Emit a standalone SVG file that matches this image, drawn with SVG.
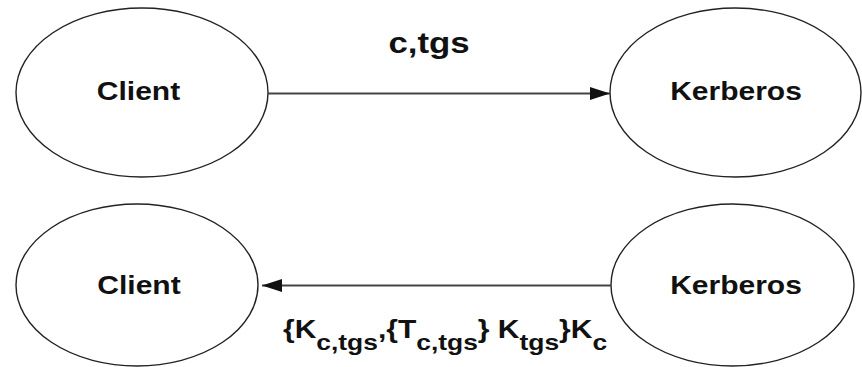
<svg xmlns="http://www.w3.org/2000/svg" width="862" height="367" viewBox="0 0 862 367">
<style>
.node ellipse{fill:#fff;stroke:#222;stroke-width:1.4}
.lbl{font-family:"Liberation Sans",Arial,sans-serif;font-weight:bold;font-size:25px;fill:#111}
.edge{stroke:#444;stroke-width:2;fill:none}
.sub{font-size:22px}
</style>
<defs>
<marker id="ah" viewBox="0 0 20 13" refX="20" refY="6.5" markerWidth="20" markerHeight="13" markerUnits="userSpaceOnUse" orient="auto">
<path d="M0,0 L20,6.5 L0,13 Z" fill="#111"/>
</marker>
</defs>
<rect width="862" height="367" fill="#fff"/>
<g id="client1" class="node">
<ellipse cx="142" cy="92.5" rx="126" ry="84.5"/>
<text class="lbl" text-anchor="middle" transform="translate(138.5,100) scale(1.2,1)">Client</text>
</g>
<g id="kerberos1" class="node">
<ellipse cx="735.5" cy="92.5" rx="125.5" ry="84.5"/>
<text class="lbl" text-anchor="middle" transform="translate(736,100) scale(1.2,1)">Kerberos</text>
</g>
<g id="client2" class="node">
<ellipse cx="137" cy="285" rx="121" ry="81"/>
<text class="lbl" text-anchor="middle" transform="translate(139,294) scale(1.2,1)">Client</text>
</g>
<g id="kerberos2" class="node">
<ellipse cx="732.5" cy="285" rx="121.5" ry="81"/>
<text class="lbl" text-anchor="middle" transform="translate(736,294) scale(1.2,1)">Kerberos</text>
</g>
<g id="connectors">
<line class="edge" x1="268" y1="93.5" x2="610" y2="93.5" marker-end="url(#ah)"/>
<line class="edge" x1="611" y1="285.5" x2="262" y2="285.5" marker-end="url(#ah)"/>
<text class="lbl" style="font-size:29px" text-anchor="middle" transform="translate(429,53) scale(1.2,1)">c,tgs</text>
<text class="lbl" transform="translate(283,338) scale(1.2,1)">{K<tspan class="sub" dy="12">c,tgs</tspan><tspan dy="-12">,{T</tspan><tspan class="sub" dy="12">c,tgs</tspan><tspan dy="-12">} K</tspan><tspan class="sub" dy="12">tgs</tspan><tspan dy="-12">}K</tspan><tspan class="sub" dy="12">c</tspan></text>
</g>
</svg>
